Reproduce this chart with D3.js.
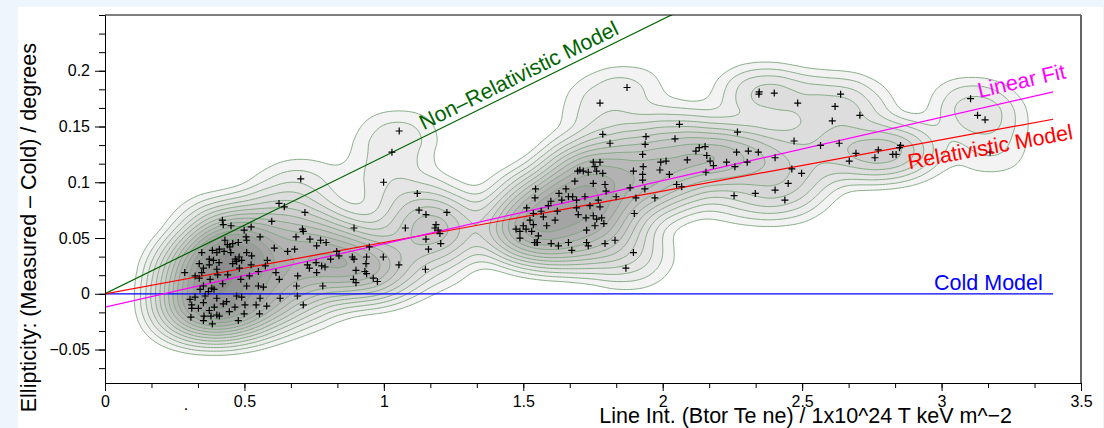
<!DOCTYPE html>
<html>
<head>
<meta charset="utf-8">
<style>
  body { margin: 0; background: #eef5fd; }
  svg { display: block; font-family: "Liberation Sans", Arial, Helvetica, sans-serif; }
</style>
</head>
<body>
<div id="chart-container"></div>
<script src="https://cdn.jsdelivr.net/npm/d3@7"></script>
<script>
// measured points: [line integral, ellipticity difference]
var points = [
  [0.702,0.103],[0.624,0.081],[0.643,0.078],[0.717,0.073],[0.421,0.066],[0.598,0.065],[0.424,0.062],[0.452,0.061],
  [0.524,0.060],[0.499,0.057],[0.708,0.058],[0.711,0.056],[0.556,0.051],[0.506,0.051],[0.685,0.051],[0.430,0.048],
  [0.735,0.049],[0.773,0.048],[0.508,0.048],[0.458,0.045],[0.439,0.044],[0.448,0.042],[0.478,0.046],[0.759,0.043],
  [0.793,0.046],[0.607,0.041],[0.655,0.038],[0.680,0.040],[0.347,0.037],[0.410,0.040],[0.427,0.038],[0.385,0.039],
  [0.401,0.037],[0.451,0.037],[0.508,0.037],[0.526,0.034],[0.481,0.033],[0.374,0.031],[0.389,0.030],[0.467,0.031],
  [0.472,0.029],[0.490,0.030],[0.524,0.026],[0.582,0.030],[0.338,0.027],[0.374,0.026],[0.409,0.028],[0.458,0.027],
  [0.482,0.023],[0.575,0.025],[0.757,0.028],[0.726,0.026],[0.733,0.023],[0.777,0.025],[0.789,0.024],[0.353,0.023],
  [0.401,0.022],[0.286,0.019],[0.550,0.020],[0.347,0.019],[0.613,0.019],[0.759,0.019],[0.691,0.016],[0.323,0.016],
  [0.338,0.014],[0.404,0.017],[0.440,0.017],[0.518,0.016],[0.377,0.013],[0.422,0.009],[0.487,0.013],[0.508,0.007],
  [0.625,0.013],[0.687,0.007],[0.781,0.007],[0.353,0.007],[0.383,0.005],[0.341,0.004],[0.550,0.007],[0.568,0.006],
  [0.391,0.004],[0.371,0.002],[0.556,-0.004],[0.628,-0.004],[0.323,-0.003],[0.690,-0.002],[0.472,-0.002],[0.490,-0.003],
  [0.359,-0.002],[0.305,-0.005],[0.401,-0.004],[0.436,-0.007],[0.311,-0.010],[0.353,-0.008],[0.424,-0.009],[0.502,-0.010],
  [0.542,-0.010],[0.466,-0.012],[0.311,-0.013],[0.335,-0.013],[0.711,-0.010],[0.392,-0.012],[0.580,-0.011],[0.374,-0.015],
  [0.446,-0.016],[0.499,-0.018],[0.554,-0.018],[0.308,-0.021],[0.355,-0.020],[0.380,-0.020],[0.401,-0.019],[0.410,-0.020],
  [0.478,-0.024],[0.353,-0.024],[0.385,-0.027],
  [1.055,0.146],[1.029,0.127],[0.999,0.100],[1.120,0.090],[1.126,0.075],[1.151,0.071],[1.226,0.073],[1.187,0.062],
  [1.183,0.059],[1.195,0.057],[1.201,0.054],[1.077,0.059],[0.893,0.059],[1.151,0.049],[1.204,0.045],[1.160,0.040],
  [1.054,0.026],[1.149,0.022],[0.948,0.042],[0.831,0.038],[0.839,0.034],[0.809,0.031],[0.887,0.033],[0.893,0.031],
  [0.938,0.033],[0.936,0.027],[0.900,0.021],[0.932,0.020],[0.938,0.018],[0.962,0.014],[0.977,0.011],[0.891,0.013],
  [0.900,0.010],[0.998,0.033],
  [1.775,0.171],[1.785,0.143],[1.811,0.135],[1.751,0.118],[1.775,0.118],[1.757,0.114],[1.695,0.110],[1.703,0.111],
  [1.715,0.110],[1.733,0.109],[1.763,0.110],[1.785,0.108],[1.895,0.110],[1.685,0.101],[1.751,0.099],[1.793,0.098],
  [1.653,0.094],[1.544,0.094],[1.628,0.090],[1.797,0.092],[1.883,0.095],[1.542,0.086],[1.662,0.087],[1.677,0.087],
  [1.638,0.084],[1.691,0.084],[1.721,0.087],[1.769,0.084],[1.833,0.087],[1.599,0.083],[1.590,0.079],[1.512,0.077],
  [1.739,0.079],[1.691,0.077],[1.775,0.078],[1.622,0.074],[1.564,0.074],[1.536,0.072],[1.572,0.069],[1.614,0.066],
  [1.697,0.071],[1.725,0.068],[1.751,0.070],[1.763,0.067],[1.781,0.068],[1.898,0.072],[1.524,0.066],[1.536,0.062],
  [1.500,0.061],[1.789,0.063],[1.757,0.061],[1.584,0.061],[1.474,0.058],[1.510,0.058],[1.488,0.056],[1.530,0.056],
  [1.727,0.057],[1.554,0.052],[1.488,0.050],[1.540,0.046],[1.546,0.046],[1.551,0.046],[1.600,0.045],[1.626,0.043],
  [1.662,0.046],[1.727,0.046],[1.733,0.043],[1.793,0.045],[1.829,0.048],[1.674,0.039],[1.895,0.037],[1.868,0.023],
  [2.346,0.181],[2.345,0.179],[2.400,0.180],[2.484,0.171],[1.872,0.185],[2.060,0.152],[2.268,0.145],[2.471,0.137],
  [1.940,0.141],[2.044,0.139],[1.937,0.134],[2.152,0.132],[2.131,0.131],[2.119,0.128],[2.265,0.127],[2.307,0.128],
  [2.343,0.127],[1.928,0.125],[2.088,0.120],[2.158,0.124],[2.170,0.119],[2.229,0.118],[2.182,0.115],[2.403,0.122],
  [2.303,0.118],[2.259,0.114],[1.993,0.118],[2.012,0.119],[1.990,0.111],[1.930,0.114],[2.155,0.109],[2.024,0.107],
  [2.463,0.112],[1.928,0.107],[1.928,0.102],[2.050,0.098],[2.068,0.096],[1.936,0.094],[2.450,0.099],[2.403,0.093],
  [2.256,0.088],[2.332,0.090],[2.438,0.084],[1.972,0.086],[1.904,0.086],
  [2.638,0.179],[2.618,0.168],[2.608,0.155],[2.707,0.160],[2.566,0.133],[2.633,0.135],[2.693,0.126],[2.669,0.119],
  [2.773,0.129],[2.761,0.122],[2.825,0.125],[2.837,0.125],[2.853,0.133],[2.849,0.131],[2.498,0.108],
  [3.104,0.175],[3.129,0.160],[3.156,0.156],[3.174,0.127]
];

// model lines, drawn between lineX[0] and lineX[1]
var lineX = [0, 3.4];
var coldY = [0, 0];
var relY = [0, 0.1565];
var fitY = [-0.012, 0.181];
var nonRelY = [0, 0.4185];

var xTicks = [0, 0.5, 1, 1.5, 2, 2.5, 3, 3.5];
var xTickLabels = ["0", "0.5", "1", "1.5", "2", "2.5", "3", "3.5"];
var yTicks = [-0.05, 0, 0.05, 0.1, 0.15, 0.2];
var yTickLabels = ["\u22120.05", "0", "0.05", "0.1", "0.15", "0.2"];

var W = 1104, H = 428;
var plotLeft = 105, plotRight = 1081, plotTop = 15, plotBottom = 383;

var svg = d3.select("#chart-container")
    .append("svg")
    .attr("width", W)
    .attr("height", H);

// white canvas on the pale blue page
svg.append("rect")
    .attr("x", 18).attr("y", 7)
    .attr("width", 1085).attr("height", H - 7)
    .attr("fill", "#fff");

var x = d3.scaleLinear().domain([0, 3.5]).range([plotLeft, plotRight]);
var y = d3.scaleLinear().domain([-0.08, 0.25]).range([plotBottom, plotTop]);

svg.append("clipPath").attr("id", "plot-clip")
    .append("rect")
    .attr("x", plotLeft).attr("y", plotTop)
    .attr("width", plotRight - plotLeft).attr("height", plotBottom - plotTop);

var plot = svg.append("g").attr("clip-path", "url(#plot-clip)");

// density contours; the kernel is wider along x, so squeeze x before the
// estimate and stretch the contours back afterwards
var stretch = 1.6;
var density = d3.contourDensity()
    .x(function(d) { return x(d[0]) / stretch; })
    .y(function(d) { return y(d[1]); })
    .size([Math.ceil(W / stretch), H])
    .cellSize(2)
    .bandwidth(15)
    .thresholds(400);

var probe = density(points);
var maxD = d3.max(probe, function(c) { return c.coordinates.length ? c.value : 0; });
var nLevels = 15;
var t0 = Math.sqrt(1 / 60), t1 = Math.sqrt(0.93);
// levels spaced evenly in sqrt(density)
var levels = d3.range(nLevels).map(function(i) {
  var t = t0 + (t1 - t0) * i / (nLevels - 1);
  return maxD * t * t;
});
var contours = density.thresholds(levels)(points);

var shade = d3.scaleLinear().domain([0, nLevels - 1]).range(["#f3f3f3", "#8e8e8e"]);

plot.append("g")
    .attr("transform", "scale(" + stretch + ",1)")
    .selectAll("path")
    .data(contours)
    .enter().append("path")
    .attr("d", d3.geoPath())
    .attr("fill", function(d, i) { return shade(i); })
    .attr("stroke", "#7ca67c")
    .attr("stroke-width", 0.9)
    .attr("vector-effect", "non-scaling-stroke");

// model lines
var models = [
  { ys: coldY, color: "#0000ff" },
  { ys: nonRelY, color: "#006400" },
  { ys: relY, color: "#ff0000" },
  { ys: fitY, color: "#ff00ff" }
];

plot.selectAll(".model")
    .data(models)
    .enter().append("line")
    .attr("class", "model")
    .attr("x1", x(lineX[0]))
    .attr("x2", x(lineX[1]))
    .attr("y1", function(d) { return y(d.ys[0]); })
    .attr("y2", function(d) { return y(d.ys[1]); })
    .attr("stroke", function(d) { return d.color; })
    .attr("stroke-width", 1.2);

// points as plus markers
svg.append("g")
    .selectAll("path")
    .data(points)
    .enter().append("path")
    .attr("transform", function(d) { return "translate(" + x(d[0]) + "," + y(d[1]) + ")"; })
    .attr("d", "M-3.5,0H3.5M0,-3.5V3.5")
    .attr("stroke", "#000")
    .attr("stroke-width", 1.2);

// line labels, rotated along their lines
function angleOf(ys) {
  var dx = x(lineX[1]) - x(lineX[0]);
  var dy = y(ys[1]) - y(ys[0]);
  return Math.atan2(dy, dx) * 180 / Math.PI;
}
function yAt(ys, xv) {
  return ys[0] + (ys[1] - ys[0]) * (xv - lineX[0]) / (lineX[1] - lineX[0]);
}
var labels = [
  { text: "Non\u2013Relativistic Model", ys: nonRelY, at: 1.153, dy: -6, color: "#006400", anchor: "start" },
  { text: "Linear Fit", ys: fitY, at: 3.144, dy: -10.5, color: "#ff00ff", anchor: "start" },
  { text: "Relativistic Model", ys: relY, at: 2.869, dy: 23, color: "#ff0000", anchor: "start" },
  { text: "Cold Model", ys: coldY, at: 3.363, dy: -4, color: "#0000ff", anchor: "end" }
];

svg.selectAll(".line-label")
    .data(labels)
    .enter().append("text")
    .attr("class", "line-label")
    .attr("transform", function(d) {
      return "translate(" + x(d.at) + "," + y(yAt(d.ys, d.at)) + ") rotate(" + angleOf(d.ys) + ")";
    })
    .attr("dy", function(d) { return d.dy; })
    .attr("text-anchor", function(d) { return d.anchor; })
    .attr("fill", function(d) { return d.color; })
    .style("font-size", "21.5px")
    .text(function(d) { return d.text; });

// axes
var minorX = d3.range(0, 22).map(function(i) { return i * 0.5 / 3; });
var minorY = d3.range(-4, 16).map(function(i) { return i * 0.05 / 3; });

svg.append("g")
    .attr("transform", "translate(0," + plotBottom + ")")
    .call(d3.axisBottom(x).tickValues(minorX).tickSize(5).tickSizeOuter(0).tickFormat(""))
    .call(function(g) { g.select(".domain").remove(); });

svg.append("g")
    .attr("transform", "translate(0," + plotBottom + ")")
    .call(d3.axisBottom(x).tickValues(xTicks).tickSize(8).tickSizeOuter(0)
      .tickFormat(function(d, i) { return xTickLabels[i]; }))
    .call(function(g) {
      g.select(".domain").attr("stroke", "#000");
      g.selectAll("text").style("font-size", "16px").attr("fill", "#000").attr("dy", "0.8em");
    });

svg.append("g")
    .attr("transform", "translate(" + plotLeft + ",0)")
    .call(d3.axisLeft(y).tickValues(minorY).tickSize(6).tickSizeOuter(0).tickFormat(""))
    .call(function(g) { g.select(".domain").remove(); });

svg.append("g")
    .attr("transform", "translate(" + plotLeft + ",0)")
    .call(d3.axisLeft(y).tickValues(yTicks).tickSize(10).tickSizeOuter(0)
      .tickFormat(function(d, i) { return yTickLabels[i]; }))
    .call(function(g) {
      g.select(".domain").attr("stroke", "#000");
      g.selectAll("text").style("font-size", "16px").attr("fill", "#000").attr("x", -15);
    });

// frame: top and right
svg.append("line")
    .attr("x1", plotLeft).attr("x2", plotRight)
    .attr("y1", plotTop).attr("y2", plotTop)
    .attr("stroke", "#000").attr("stroke-width", 1);
svg.append("line")
    .attr("x1", plotRight).attr("x2", plotRight)
    .attr("y1", plotTop).attr("y2", plotBottom)
    .attr("stroke", "#666").attr("stroke-width", 2);

// stray dot under the axis
svg.append("text")
    .attr("x", x(0.29)).attr("y", 410)
    .attr("text-anchor", "middle")
    .style("font-size", "16px")
    .text(".");

// axis titles
svg.append("text")
    .attr("x", 1012)
    .attr("y", 423)
    .attr("text-anchor", "end")
    .style("font-size", "21.5px")
    .text("Line Int. (Btor Te ne) / 1x10^24 T keV m^\u22122");

svg.append("text")
    .attr("transform", "translate(36,43) rotate(-90)")
    .attr("text-anchor", "end")
    .style("font-size", "21.5px")
    .text("Ellipticity: (Measured \u2013 Cold) / degrees");
</script>
</body>
</html>
